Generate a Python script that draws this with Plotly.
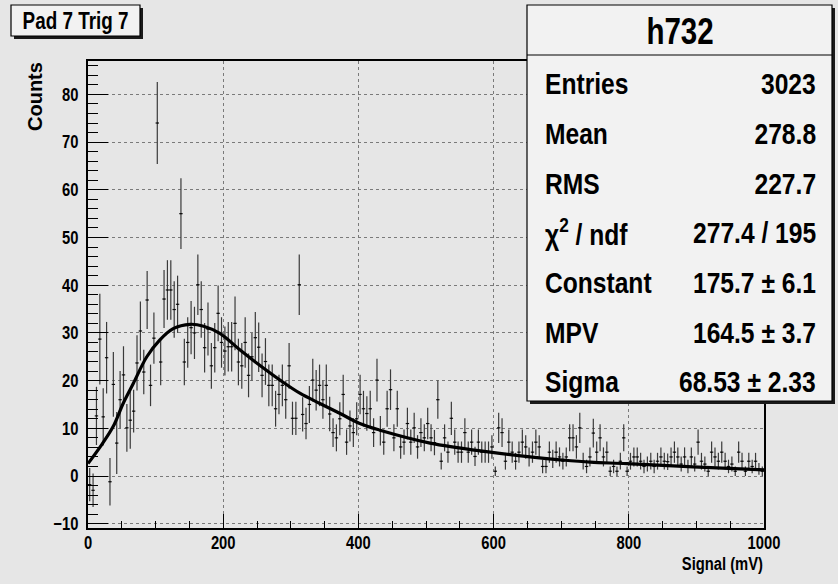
import json
import numpy as np
import plotly.graph_objects as go

# ---------------- data ----------------
bin_width = 5.0
counts = [
    -1.8, -3.0, 12.6, 28.7, 12.4, 24.8, -1.2, 19.2, 6.9, 16.0,
    21.2, 10.1, 11.7, 13.6, 23.7, 30.4, 21.8, 36.9, 19.0, 28.9,
    74.0, 23.9, 37.1, 39.0, 39.0, 34.9, 36.0, 55.0, 23.9, 28.0,
    31.1, 30.0, 40.1, 34.9, 26.9, 30.8, 23.1, 26.9, 34.1, 28.0,
    26.2, 27.1, 27.1, 32.0, 23.9, 23.1, 28.0, 21.1, 25.0, 29.0,
    27.0, 21.1, 24.0, 19.0, 19.0, 14.1, 17.1, 19.0, 16.0, 23.1,
    12.1, 12.1, 40.1, 12.9, 11.0, 15.0, 20.1, 18.0, 19.0, 16.0,
    19.0, 13.0, 9.1, 8.0, 12.0, 17.1, 7.1, 10.5, 9.1, 12.0,
    17.1, 14.1, 13.1, 14.1, 9.1, 20.1, 9.5, 7.1, 14.1, 18.1,
    8.0, 14.1, 6.1, 7.1, 11.0, 7.1, 10.1, 6.1, 9.1, 8.0,
    11.0, 8.0, 7.0, 16.0, 3.1, 8.0, 5.0, 12.1, 7.1, 5.0,
    5.0, 9.1, 5.0, 7.1, 4.1, 7.1, 5.0, 5.0, 5.0, 6.1,
    1.0, 10.1, 9.1, 3.1, 7.1, 5.0, 3.1, 5.0, 7.1, 6.1,
    4.0, 5.0, 7.1, 6.1, 2.0, 2.0, 5.0, 3.6, 5.0, 4.0,
    3.1, 4.0, 8.0, 8.0, 6.1, 10.1, 3.1, 2.0, 4.0, 9.0,
    5.0, 8.0, 4.0, 5.0, 1.0, 2.0, 1.0, 3.1, 8.0, 1.0,
    3.1, 4.0, 4.0, 3.1, 2.0, 2.5, 3.1, 2.0, 3.1, 4.0,
    3.1, 3.0, 4.0, 5.0, 4.0, 2.5, 4.0, 2.0, 4.0, 2.5,
    7.1, 3.1, 2.5, 1.0, 5.0, 4.0, 3.1, 5.0, 3.1, 2.0,
    2.5, 1.0, 5.0, 3.1, 1.0, 3.1, 2.0, 3.1, 1.5, 1.0,
]
# error bars of the first bins (pedestal-subtracted region)
first_errors = [3.5, 3.5, 6.1, 9.5, 6.0, 7.5, 5.0, 6.8, 6.5, 6.0,
                6.0, 5.0, 6.0, 4.5, 5.8, 6.2]

# fitted Landau curve
fit_x = [0, 18, 37, 52, 67, 87, 106, 126, 151, 171, 195, 225, 254, 284, 314,
         343, 373, 402, 432, 506, 595, 654, 698, 743, 797, 895, 1000]
fit_y = [2.6, 6.1, 10.3, 15.2, 19.4, 25.0, 28.5, 30.9, 31.8, 31.4, 29.9, 26.4,
         23.2, 20.1, 17.3, 15.2, 13.1, 11.0, 9.6, 6.9, 5.0, 4.0, 3.4, 2.9,
         2.6, 1.9, 1.3]

title_text = "Pad 7 Trig 7"
stats_name = "h732"
stats_labels = ["Entries", "Mean", "RMS", "χ<sup>2</sup> / ndf", "Constant", "MPV", "Sigma"]
stats_values = ["3023", "278.8", "227.7", "277.4 / 195", "175.7 ± 6.1", "164.5 ± 3.7", "68.53 ± 2.33"]
x_title = "Signal (mV)"
y_title = "Counts"

# ---------------- derived ----------------
counts_arr = np.array(counts)
centers = bin_width * (np.arange(len(counts)) + 0.5)
errors = np.sqrt(np.abs(counts_arr))
errors[:len(first_errors)] = first_errors

FONT = "Liberation Sans, Arial, sans-serif"
BG = "#e6e6e6"
BOX = "#f2f2f2"

L, R, T, B = 88, 764, 61, 528
W, H = R - L, B - T


def px2paper(px, py):
    return (px - L) / W, (B - py) / H


fig = go.Figure()
fig.add_trace(go.Scatter(
    x=centers, y=counts_arr, mode="markers",
    marker=dict(size=1, color="black"),
    error_x=dict(type="constant", value=bin_width / 2, width=0, thickness=1.2, color="#111"),
    error_y=dict(type="data", array=errors, width=0, thickness=1.2, color="#3a3a3a"),
    hoverinfo="skip",
))
fig.add_trace(go.Scatter(
    x=fit_x, y=fit_y, mode="lines",
    line=dict(color="black", width=3.2, shape="spline", smoothing=1.0),
    hoverinfo="skip",
))

shapes = []
annotations = []
modes = []


def box(px0, py0, px1, py1, shadow=3):
    x0, y1 = px2paper(px0 + shadow, py0 + shadow)
    x1, y0 = px2paper(px1 + shadow, py1 + shadow)
    shapes.append(dict(type="rect", xref="paper", yref="paper", x0=x0, x1=x1, y0=y0, y1=y1,
                       fillcolor="#1a1a1a", line=dict(width=0), layer="above"))
    x0, y1 = px2paper(px0, py0)
    x1, y0 = px2paper(px1, py1)
    shapes.append(dict(type="rect", xref="paper", yref="paper", x0=x0, x1=x1, y0=y0, y1=y1,
                       fillcolor=BOX, line=dict(width=1.2, color="black"), layer="above"))


def text(px, py, s, size, anchor="center", angle=0, squish=True):
    x, y = px2paper(px, py)
    annotations.append(dict(xref="paper", yref="paper", x=x, y=y, text=s, showarrow=False,
                            xanchor=anchor, yanchor="middle", textangle=angle,
                            font=dict(family=FONT, size=size, color="black", weight="bold")))
    if not squish:
        modes.append("skip")
    else:
        modes.append({"left": "start", "right": "end", "center": "middle"}[anchor])


# title box
box(11, 5, 140, 36)
text(75.5, 21, title_text, 23)

# stats box
box(527, 5, 832, 401)
x0, y0 = px2paper(527, 55)
x1, _ = px2paper(832, 55)
shapes.append(dict(type="line", xref="paper", yref="paper", x0=x0, x1=x1, y0=y0, y1=y0,
                   line=dict(color="black", width=1.2), layer="above"))
text(680, 32, stats_name, 36)
row_y = [83, 133, 183, 232, 282, 332, 381]
for lab, val, yy in zip(stats_labels, stats_values, row_y):
    text(543, yy, lab, 30, anchor="left")
    text(818, yy, val, 30, anchor="right")

# axis titles
text(35, 97, y_title, 20, angle=-90, squish=False)
text(765, 564, x_title, 18, anchor="right")

axis_common = dict(
    ticks="inside", tickcolor="black", tickwidth=1,
    showline=True, linecolor="black", linewidth=2, mirror=True,
    showgrid=True, gridcolor="#7a7a7a", griddash="dot", gridwidth=1,
    zeroline=False,
    tickfont=dict(family=FONT, size=18, color="black", weight="bold"),
)

fig.update_layout(
    width=838, height=584,
    margin=dict(l=L, r=838 - R, t=T, b=584 - B),
    paper_bgcolor=BG, plot_bgcolor=BG,
    showlegend=False,
    shapes=shapes, annotations=annotations,
    xaxis=dict(range=[0, 1000], tick0=0, dtick=200, ticklen=14,
               minor=dict(dtick=50, ticklen=7, ticks="inside", tickcolor="black", showgrid=False),
               ticklabelstandoff=-3, **axis_common),
    yaxis=dict(range=[-10.9, 87], tick0=0, dtick=10, ticklen=20,
               minor=dict(dtick=2, ticklen=10, ticks="inside", tickcolor="black", showgrid=False),
               ticklabelstandoff=4, **axis_common),
)

# horizontally condense the (Helvetica-bold-like) texts, as in the reference
post = """
var gd = document.getElementById('{plot_id}');
var modes = MODES;
var F = 0.82;
function sq(t, mode){
  try {
    var len = t.getComputedTextLength();
    if (!(len > 0)) return;
    if (mode) {
      var bb = t.getBBox();
      var x = mode === 'start' ? bb.x : (mode === 'end' ? bb.x + bb.width : bb.x + bb.width / 2);
      t.setAttribute('text-anchor', mode);
      t.setAttribute('x', x);
    }
    t.setAttribute('textLength', len * F);
    t.setAttribute('lengthAdjust', 'spacingAndGlyphs');
  } catch (e) {}
}
gd.querySelectorAll('.xtick text, .ytick text').forEach(function(t){ sq(t, null); });
gd.querySelectorAll('g.annotation').forEach(function(g){
  var i = parseInt(g.getAttribute('data-index'));
  var m = modes[i];
  if (!m || m === 'skip') return;
  var t = g.querySelector('text.annotation-text');
  if (t) sq(t, m);
});
""".replace("MODES", json.dumps(modes))

fig.write_html("out.html", post_script=post)
